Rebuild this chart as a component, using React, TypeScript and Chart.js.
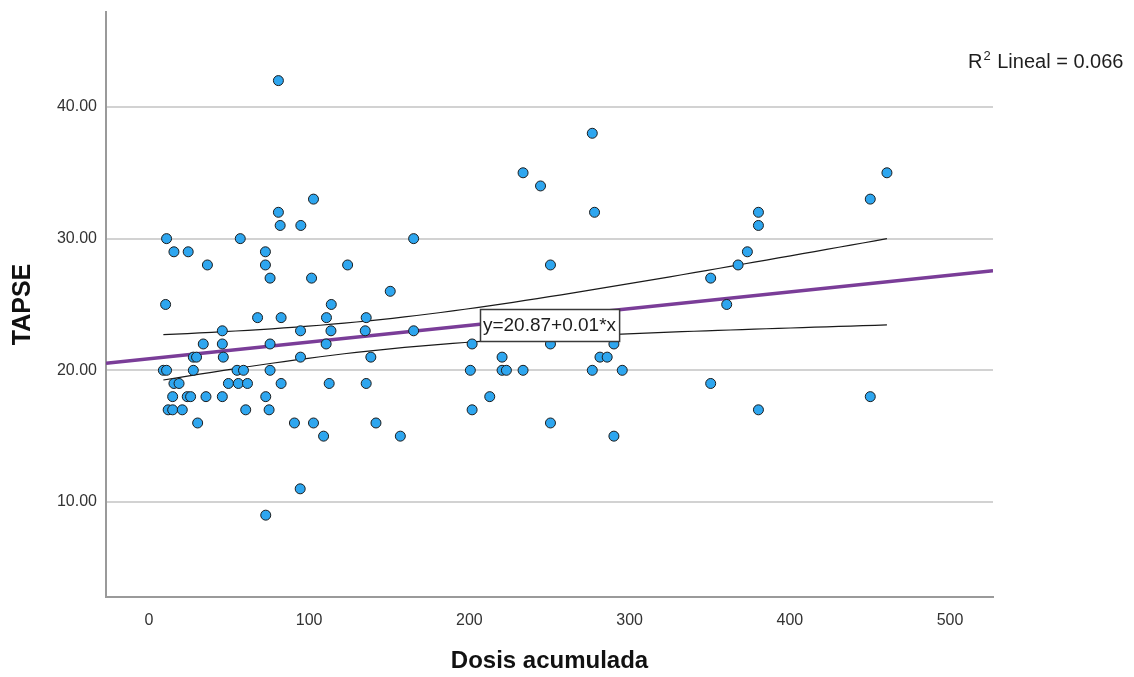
import React, { useEffect, useRef } from "react";
import { Chart, registerables } from "chart.js";

Chart.register(...registerables);

// Accumulated dose (x) and TAPSE (y) for each patient, same order in both arrays
const doseValues = [
  80.8, 276.7, 233.5, 460.6, 244.4, 102.7, 450.2, 80.8, 278.1, 380.4,
  81.9, 94.8, 380.4, 11, 57, 165.2, 15.6, 24.5, 72.7, 373.5,
  36.5, 72.7, 124, 250.6, 367.7, 75.6, 101.5, 350.6, 150.6, 10.4,
  113.8, 360.6, 67.8, 82.5, 110.8, 135.6, 45.8, 94.6, 113.6, 135,
  165.2, 33.9, 45.8, 75.6, 110.6, 201.7, 250.6, 290.2, 27.7, 29.7,
  46.4, 94.6, 138.5, 220.4, 281.5, 286, 9, 11, 27.7, 55,
  59, 75.6, 200.6, 220.4, 223.1, 233.5, 276.7, 295.4, 15.6, 18.8,
  49.6, 55.8, 61.5, 82.5, 112.5, 135.6, 350.6, 14.8, 23.9, 26,
  35.6, 45.8, 72.9, 212.7, 450.2, 12, 14.8, 20.8, 60.4, 75,
  201.7, 380.4, 30.4, 90.8, 102.7, 141.7, 250.6, 109, 156.9, 290.2,
  94.4, 72.9,
];
const tapseValues = [
  42, 38, 35, 35, 34, 33, 33, 32, 32, 32,
  31, 31, 31, 30, 30, 30, 29, 29, 29, 29,
  28, 28, 28, 28, 28, 27, 27, 27, 26, 25,
  25, 25, 24, 24, 24, 24, 23, 23, 23, 23,
  23, 22, 22, 22, 22, 22, 22, 22, 21, 21,
  21, 21, 21, 21, 21, 21, 20, 20, 20, 20,
  20, 20, 20, 20, 20, 20, 20, 20, 19, 19,
  19, 19, 19, 19, 19, 19, 19, 18, 18, 18,
  18, 18, 18, 18, 18, 17, 17, 17, 17, 17,
  17, 17, 16, 16, 16, 16, 16, 15, 15, 15,
  11, 9,
];

const xTickValues = [0, 100, 200, 300, 400, 500];
const yTickValues = [10, 20, 30, 40];

// Linear fit reported on the chart
const INTERCEPT = 20.87;
const SLOPE = 0.0127;
const R_SQUARED = 0.066;
const T_CRIT = 1.984;

const X_MIN = -26.8;
const X_MAX = 526.8;
const Y_MIN = 2.785;
const Y_MAX = 47.21;

const FONT = '"Liberation Sans", Arial, Helvetica, sans-serif';

const fitAt = (x: number) => INTERCEPT + SLOPE * x;

// 95% confidence band of the mean around the fitted line
function confidenceBand(sign: number) {
  const n = doseValues.length;
  const xbar = doseValues.reduce((a, b) => a + b, 0) / n;
  const sxx = doseValues.reduce((a, b) => a + (b - xbar) ** 2, 0);
  const sse = doseValues.reduce(
    (a, x, i) => a + (tapseValues[i] - fitAt(x)) ** 2,
    0
  );
  const s = Math.sqrt(sse / (n - 2));
  const lo = Math.min(...doseValues);
  const hi = Math.max(...doseValues);
  const pts: { x: number; y: number }[] = [];
  const steps = 60;
  for (let k = 0; k <= steps; k++) {
    const x = lo + ((hi - lo) * k) / steps;
    const hw = T_CRIT * s * Math.sqrt(1 / n + (x - xbar) ** 2 / sxx);
    pts.push({ x, y: fitAt(x) + sign * hw });
  }
  return pts;
}

const labelsPlugin = {
  id: "fitLabels",
  afterDatasetsDraw(chart: any) {
    const { ctx, scales } = chart;
    const xs = scales.x;
    const ys = scales.y;
    ctx.save();

    // equation box on the fit line
    const ex = 250;
    const cx = xs.getPixelForValue(ex);
    const cy = ys.getPixelForValue(fitAt(ex)) + 8;
    const eq = `y=${INTERCEPT.toFixed(2)}+${SLOPE.toFixed(2)}*x`;
    ctx.font = `19px ${FONT}`;
    const tw = ctx.measureText(eq).width;
    const bw = tw + 6;
    const bh = 32;
    const bx = Math.round(cx - bw / 2) + 0.5;
    const by = Math.round(cy - bh / 2) + 0.5;
    ctx.fillStyle = "#ffffff";
    ctx.fillRect(bx, by, bw, bh);
    ctx.strokeStyle = "#3a3a3a";
    ctx.lineWidth = 1.5;
    ctx.strokeRect(bx, by, bw, bh);
    ctx.fillStyle = "#1e1e1e";
    ctx.textAlign = "center";
    ctx.textBaseline = "middle";
    ctx.fillText(eq, cx, cy + 1);

    // R squared note
    ctx.textAlign = "left";
    ctx.textBaseline = "alphabetic";
    let tx = 968;
    const base = 68;
    ctx.font = `20px ${FONT}`;
    ctx.fillText("R", tx, base);
    tx += ctx.measureText("R").width + 1;
    ctx.font = `13px ${FONT}`;
    ctx.fillText("2", tx, base - 8);
    tx += ctx.measureText("2").width + 1;
    ctx.font = `20px ${FONT}`;
    ctx.fillText(` Lineal = ${R_SQUARED.toFixed(3)}`, tx, base);

    ctx.restore();
  },
};

export default function App() {
  const canvasRef = useRef<HTMLCanvasElement | null>(null);

  useEffect(() => {
    const canvas = canvasRef.current;
    if (!canvas) return;

    const points = doseValues.map((x, i) => ({ x, y: tapseValues[i] }));

    const chart = new Chart(canvas, {
      type: "scatter",
      data: {
        datasets: [
          {
            label: "TAPSE",
            data: points,
            order: 0,
            pointRadius: 5,
            pointHoverRadius: 5,
            pointBackgroundColor: "#2ea6ef",
            pointBorderColor: "#1c1c1c",
            pointBorderWidth: 1,
            showLine: false,
          },
          {
            label: "Lineal",
            data: [
              { x: X_MIN, y: fitAt(X_MIN) },
              { x: X_MAX, y: fitAt(X_MAX) },
            ],
            order: 1,
            showLine: true,
            borderColor: "#7a3d98",
            borderWidth: 3.5,
            pointRadius: 0,
          },
          {
            label: "IC superior",
            data: confidenceBand(1),
            order: 2,
            showLine: true,
            borderColor: "#1a1a1a",
            borderWidth: 1.2,
            pointRadius: 0,
            tension: 0,
          },
          {
            label: "IC inferior",
            data: confidenceBand(-1),
            order: 2,
            showLine: true,
            borderColor: "#1a1a1a",
            borderWidth: 1.2,
            pointRadius: 0,
            tension: 0,
          },
        ],
      },
      options: {
        responsive: false,
        animation: false,
        layout: { padding: { top: 12, right: 141, left: 0, bottom: 0 } },
        plugins: {
          legend: { display: false },
          tooltip: { enabled: false },
        },
        scales: {
          x: {
            type: "linear",
            min: X_MIN,
            max: X_MAX,
            afterBuildTicks: (scale: any) => {
              scale.ticks = xTickValues.map((v) => ({ value: v }));
            },
            afterFit: (scale: any) => {
              scale.height = 80;
              scale.paddingLeft = 0;
              scale.paddingRight = 0;
            },
            grid: { display: false, drawTicks: false },
            border: { display: true, color: "#9a9a9a", width: 2 },
            ticks: {
              padding: 14,
              color: "#333333",
              font: { family: FONT, size: 16 },
              callback: (v: any) => String(v),
            },
            title: {
              display: true,
              text: "Dosis acumulada",
              color: "#111111",
              font: { family: FONT, size: 24, weight: "bold" },
              padding: { top: 0, bottom: 1 },
            },
          },
          y: {
            type: "linear",
            min: Y_MIN,
            max: Y_MAX,
            afterBuildTicks: (scale: any) => {
              scale.ticks = yTickValues.map((v) => ({ value: v }));
            },
            afterFit: (scale: any) => {
              scale.width = 106;
              scale.paddingTop = 0;
              scale.paddingBottom = 0;
            },
            grid: { color: "#d2d2d2", lineWidth: 2, drawTicks: false },
            border: { display: true, color: "#9a9a9a", width: 2 },
            ticks: {
              padding: 9,
              color: "#333333",
              font: { family: FONT, size: 16 },
              callback: (v: any) => Number(v).toFixed(2),
            },
            title: {
              display: true,
              text: "TAPSE",
              color: "#111111",
              font: { family: FONT, size: 25, weight: "bold" },
              padding: { top: 8, bottom: 0 },
            },
          },
        },
      },
      plugins: [labelsPlugin],
    });

    return () => chart.destroy();
  }, []);

  return (
    <div
      style={{
        position: "fixed",
        left: 0,
        top: 0,
        width: 1134,
        height: 677,
        background: "#ffffff",
      }}
    >
      <canvas ref={canvasRef} width={1134} height={677} />
    </div>
  );
}
